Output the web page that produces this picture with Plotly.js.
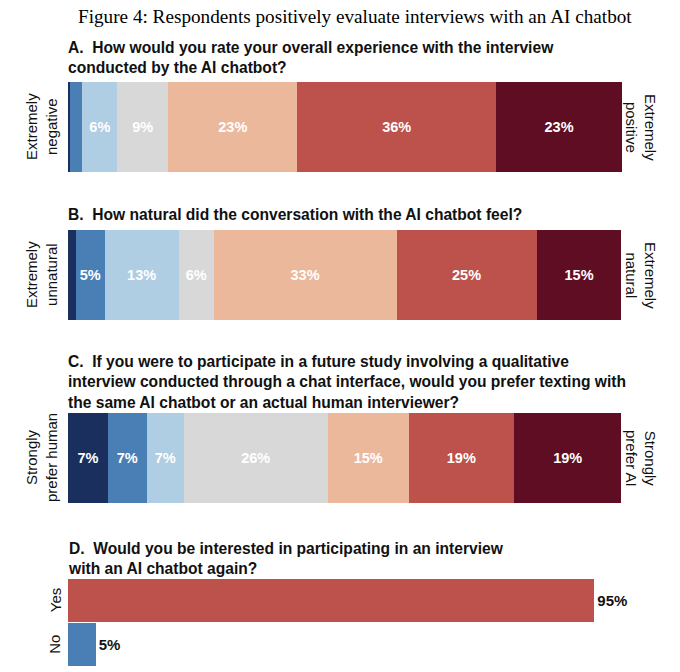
<!DOCTYPE html>
<html><head><meta charset="utf-8">
<script src="https://cdn.plot.ly/plotly-3.0.1.min.js"></script>
<style>html,body{margin:0;padding:0;background:#fff}#chart{width:680px;height:672px}</style>
</head><body><div id="chart"></div>
<script>
// Likert levels (left = most negative, right = most positive)
const levelColors = ["#1b2f5f","#4a7fb6","#afcde3","#d8d8d8","#ecb89c","#bc524b","#5e0d22"];
const valuesA = [0.4, 2.2, 6.3, 9.2, 23.3, 35.9, 22.7];
const valuesB = [1.4, 5.2, 13.4, 6.3, 33.0, 25.3, 15.3];
const valuesC = [7.2, 7.0, 6.7, 26.0, 14.6, 19.0, 19.4];
const categoriesD = ["No","Yes"];
const valuesD = [5, 95];
const colorsD = ["#4a7fb6","#bc524b"];

const titleMain = "Figure 4: Respondents positively evaluate interviews with an AI chatbot";
const titleA = "A.  How would you rate your overall experience with the interview<br>conducted by the AI chatbot?";
const titleB = "B.  How natural did the conversation with the AI chatbot feel?";
const titleC = "C.  If you were to participate in a future study involving a qualitative<br>interview conducted through a chat interface, would you prefer texting with<br>the same AI chatbot or an actual human interviewer?";
const titleD = "D.  Would you be interested in participating in an interview<br>with an AI chatbot again?";
const leftLabels = ["Extremely<br>negative","Extremely<br>unnatural","Strongly<br>prefer human"];
const rightLabels = ["Extremely<br>positive","Extremely<br>natural","Strongly<br>prefer AI"];

const SANS = "Liberation Sans, Arial, sans-serif";
const panels = [valuesA, valuesB, valuesC];
const axisNames = ["y","y2","y3"];
const traces = [];
panels.forEach((vals, p) => {
  vals.forEach((v, i) => {
    traces.push({
      type: "bar", orientation: "h",
      x: [v], y: [0],
      xaxis: "x" + (p === 0 ? "" : (p + 1)), yaxis: axisNames[p],
      width: 1,
      marker: {color: levelColors[i], line: {width: 0}},
      text: [v >= 4.5 ? Math.round(v) + "%" : ""],
      textposition: "inside", insidetextanchor: "middle",
      textfont: {family: SANS, size: 14.5, color: "#ffffff", weight: "bold"},
      constraintext: "none",
      hoverinfo: "skip", showlegend: false
    });
  });
});
traces.push({
  type: "bar", orientation: "h",
  x: valuesD, y: categoriesD,
  xaxis: "x4", yaxis: "y4",
  width: 0.97,
  marker: {color: colorsD, line: {width: 0}},
  text: valuesD.map(v => v + "%"),
  textposition: "outside", cliponaxis: false,
  textfont: {family: SANS, size: 15, color: "#111", weight: "bold"},
  hoverinfo: "skip", showlegend: false
});

const xdom = [68/680, 622/680];
const pix = (top, bot) => [1 - bot/672, 1 - top/672];
const hid = {showticklabels:false, showgrid:false, zeroline:false, showline:false, ticks:"", fixedrange:true};
const layout = {
  width: 680, height: 672,
  margin: {l:0, r:0, t:0, b:0},
  paper_bgcolor: "#fff", plot_bgcolor: "#fff",
  barmode: "stack", bargap: 0,
  xaxis:  Object.assign({domain: xdom, range: [0,100], anchor: "y"}, hid),
  xaxis2: Object.assign({domain: xdom, range: [0,100], anchor: "y2"}, hid),
  xaxis3: Object.assign({domain: xdom, range: [0,100], anchor: "y3"}, hid),
  xaxis4: Object.assign({domain: xdom, range: [0,100], anchor: "y4"}, hid),
  yaxis:  Object.assign({domain: pix(82,172), range: [-0.5,0.5], anchor: "x"}, hid),
  yaxis2: Object.assign({domain: pix(230,320), range: [-0.5,0.5], anchor: "x2"}, hid),
  yaxis3: Object.assign({domain: pix(413,503), range: [-0.5,0.5], anchor: "x3"}, hid),
  yaxis4: Object.assign({domain: pix(578,667), range: [-0.5,1.5], anchor: "x4", type: "category"}, hid),
  annotations: []
};
const A = layout.annotations;
const py = v => 1 - v/672;
const px = v => v/680;
A.push({text: titleMain, xref:"paper", yref:"paper", x: px(355), y: py(16), xanchor:"center", yanchor:"middle", showarrow:false,
        font:{family:"Liberation Serif, Times New Roman, serif", size:19.2, color:"#000"}});
const qFont = {family: SANS, size: 15.6, color:"#111", weight:"bold"};
[[titleA,57],[titleB,214],[titleC,382],[titleD,558]].forEach(([t,y]) => {
  A.push({text: t, xref:"paper", yref:"paper", x: px(66), y: py(y), xanchor:"left", yanchor:"middle", align:"left",
          showarrow:false, font: qFont});
});
const sideFont = {family: SANS, size: 15, color:"#111"};
const centers = [127, 275, 458];
centers.forEach((c, i) => {
  A.push({text: leftLabels[i], xref:"paper", yref:"paper", x: px(41), y: py(c), xanchor:"center", yanchor:"middle",
          textangle:-90, showarrow:false, font: sideFont});
  A.push({text: rightLabels[i], xref:"paper", yref:"paper", x: px(641), y: py(c), xanchor:"center", yanchor:"middle",
          textangle:90, showarrow:false, font: sideFont});
});
categoriesD.forEach((c) => {
  A.push({text: c, xref:"paper", yref:"y4", x: px(55), y: c, xanchor:"center", yanchor:"middle",
          textangle:-90, showarrow:false, font: sideFont});
});
Plotly.newPlot("chart", traces, layout, {staticPlot: true, displayModeBar: false});
</script>
</body></html>
